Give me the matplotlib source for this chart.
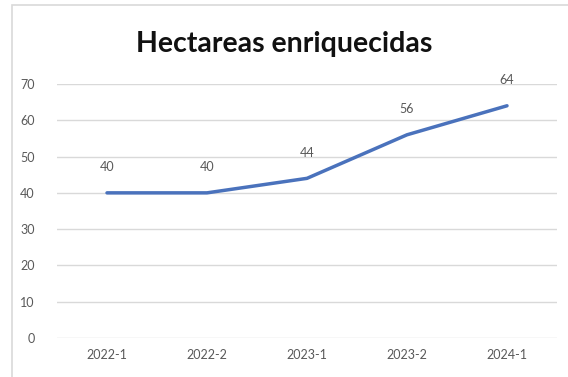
from matplotlib import pyplot as plt
from matplotlib.patches import Rectangle

plt.rcParams.update({'font.family': ['Lato', 'DejaVu Sans']})

# data
periods = ['2022-1', '2022-2', '2023-1', '2023-2', '2024-1']
hectares = [40, 40, 44, 56, 64]

fig = plt.figure(figsize=(5.68, 3.77), dpi=100)

# light chart border like the spreadsheet frame
fig.patches.append(Rectangle((12 / 568, -0.05), 1.0, 1 - 5 / 377 + 0.05,
                             transform=fig.transFigure, fill=False,
                             edgecolor='#D9D9D9', linewidth=1.2))

ax = fig.add_axes([57 / 568, 1 - 338 / 377, 500 / 568, 254 / 377])
x = range(len(periods))
ax.plot(x, hectares, color='#4A72BC', linewidth=2.5, solid_capstyle='round',
        zorder=3)
for xi, v in zip(x, hectares):
    ax.annotate(str(v), (xi, v), xytext=(0, 14), textcoords='offset points',
                ha='center', va='bottom', fontsize=9, color='#595959')

ax.set_xlim(-0.5, len(periods) - 0.5)
ax.set_ylim(0, 70)
ax.set_yticks(range(0, 71, 10))
ax.set_xticks(list(x))
ax.set_xticklabels(periods)
ax.grid(axis='y', color='#D9D9D9', linewidth=1)
ax.set_axisbelow(True)
for s in ax.spines.values():
    s.set_visible(False)
ax.tick_params(length=0, labelsize=9, labelcolor='#595959', pad=8)
ax.tick_params(axis='y', pad=16)

fig.text(284 / 568, 1 - 44 / 377, 'Hectareas enriquecidas', ha='center',
         va='center', fontsize=20.5, fontweight='bold', color='#111111')

fig.savefig('out.png', dpi=100)
